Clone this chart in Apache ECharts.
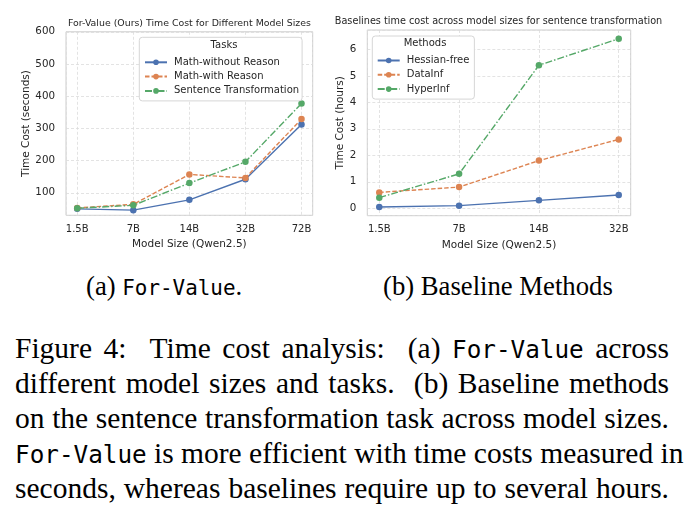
<!DOCTYPE html>
<html>
<head>
<meta charset="utf-8">
<script src="https://cdn.jsdelivr.net/npm/echarts@6/dist/echarts.min.js"></script>
<style>
  body { margin: 0; width: 691px; height: 523px; position: relative; background: #fff; overflow: hidden; }
  #chart { position: absolute; left: 0; top: 0; width: 691px; height: 262px; }
  .sub { position: absolute; top: 272.5px; font: 26.7px/1 "Liberation Serif", serif; color: #000; white-space: nowrap; }
  .tt { font-family: "DejaVu Sans Mono", monospace; line-height: 1; }
  .cap { position: absolute; left: 15px; width: 654px; top: 330.5px; font-family: "Liberation Serif", serif; font-size: 29.5px; color: #000; }
  .cap div { height: 35.2px; line-height: 35.2px; text-align: justify; text-align-last: justify; white-space: nowrap; }
  .cap .tt { font-size: 24.3px; }
</style>
</head>
<body>
<div id="chart"></div>
<div class="sub" style="left:86px">(a) <span class="tt" style="font-size:20.9px">For-Value</span>.</div>
<div class="sub" style="left:383px">(b) Baseline Methods</div>
<div class="cap">
  <div>Figure 4: &nbsp;Time cost analysis: &nbsp;(a) <span class="tt">For-Value</span> across</div>
  <div>different model sizes and tasks. &nbsp;(b) Baseline methods</div>
  <div>on the sentence transformation task across model sizes.</div>
  <div><span class="tt">For-Value</span> is more efficient with time costs measured in</div>
  <div>seconds, whereas baselines require up to several hours.</div>
</div>
<script>
// (a) For-Value time cost, seconds
var sizesA = ['1.5B', '7B', '14B', '32B', '72B'];
var mathWithout = [50, 46, 78, 142, 312];
var mathWith = [53, 64, 157, 146, 329];
var sentence = [52, 61, 130, 196, 377];

// (b) baselines, hours
var sizesB = ['1.5B', '7B', '14B', '32B'];
var hessianFree = [0.05, 0.1, 0.3, 0.5];
var dataInf = [0.6, 0.8, 1.8, 2.6];
var hyperInf = [0.4, 1.3, 5.4, 6.4];

var BLUE = '#4c72b0', ORANGE = '#dd8452', GREEN = '#55a868';
var FONT = 'DejaVu Sans';
var TXT = '#262626';
var DASH = [4.5, 2];
var DASHDOT = [7, 2, 1.5, 2];

var chart = echarts.init(document.getElementById('chart'));

function pairs(arr) {
    return arr.map(function (v, i) { return [i, v]; });
}

function lineSeries(name, data, color, dash, idx) {
    return {
        type: 'line',
        name: name,
        xAxisIndex: idx,
        yAxisIndex: idx,
        data: pairs(data),
        symbol: 'circle',
        symbolSize: 6.5,
        lineStyle: { color: color, width: 1.4, type: dash },
        itemStyle: { color: color },
        emphasis: { disabled: true },
        animation: false
    };
}

var gridLine = { show: true, lineStyle: { color: '#dcdcdc', width: 0.8, type: [3, 2] } };

function xAxis(idx, cats, pad, split) {
    return {
        type: 'value',
        gridIndex: idx,
        min: -pad,
        max: cats.length - 1 + pad,
        splitNumber: split,
        axisLine: { show: false },
        axisTick: { show: false },
        splitLine: gridLine,
        axisLabel: {
            showMinLabel: false,
            showMaxLabel: false,
            margin: 9,
            fontSize: 10,
            fontFamily: FONT,
            color: TXT,
            formatter: function (v) {
                return Number.isInteger(v) ? cats[v] : '';
            }
        },
        name: 'Model Size (Qwen2.5)',
        nameLocation: 'middle',
        nameGap: 21,
        nameTextStyle: { fontSize: 10.5, fontFamily: FONT, color: TXT }
    };
}

function yAxis(idx, min, max, step, name, gap) {
    return {
        type: 'value',
        gridIndex: idx,
        min: min,
        max: max,
        splitNumber: 5,
        axisLine: { show: false },
        axisTick: { show: false },
        splitLine: gridLine,
        axisLabel: {
            showMinLabel: false,
            margin: 11,
            fontSize: 10.3,
            fontFamily: FONT,
            color: TXT,
            formatter: function (v) {
                return (Math.abs(v / step - Math.round(v / step)) < 1e-6 && v >= 0) ? String(Math.round(v)) : '';
            }
        },
        name: name,
        nameLocation: 'middle',
        nameGap: gap,
        nameTextStyle: { fontSize: 10.5, fontFamily: FONT, color: TXT }
    };
}

function legend(names, left, top, pad) {
    return {
        data: names,
        orient: 'vertical',
        left: left,
        top: top,
        padding: pad,
        itemWidth: 22,
        itemHeight: 7,
        itemGap: 2.3,
        selectedMode: false,
        backgroundColor: '#fff',
        borderColor: '#d6d6d6',
        borderWidth: 1,
        borderRadius: 3,
        textStyle: { fontSize: 10, lineHeight: 12, fontFamily: FONT, color: TXT, padding: [0, 0, 0, 2] }
    };
}

function label(text, x, y, size) {
    return {
        type: 'text',
        x: x,
        y: y,
        z: 100,
        style: {
            text: text,
            fontSize: size,
            fontFamily: FONT,
            fill: TXT,
            align: 'center',
            verticalAlign: 'middle'
        }
    };
}

var option = {
    backgroundColor: '#fff',
    animation: false,
    grid: [
        { left: 66, top: 31.8, width: 246.7, height: 183.5, show: true, borderColor: '#cccccc', borderWidth: 1 },
        { left: 367.3, top: 30, width: 263.4, height: 185.7, show: true, borderColor: '#cccccc', borderWidth: 1 }
    ],
    xAxis: [
        xAxis(0, sizesA, 0.2, 5),
        xAxis(1, sizesB, 0.15, 3)
    ],
    yAxis: [
        yAxis(0, 30, 600, 100, 'Time Cost (seconds)', 33),
        yAxis(1, -0.28, 6.73, 1, 'Time Cost (hours)', 21)
    ],
    legend: [
        legend(['Math-without Reason', 'Math-with Reason', 'Sentence Transformation'], 139.3, 37.3, [19, 3, 4, 4.7]),
        legend(['Hessian-free', 'DataInf', 'HyperInf'], 372.3, 36, [18.5, 5, 4, 4.4])
    ],
    graphic: [
        label('For-Value (Ours) Time Cost for Different Model Sizes', 189.5, 24, 9.4),
        label('Baselines time cost across model sizes for sentence transformation', 498.5, 21.5, 9.7),
        label('Tasks', 224, 45.7, 10),
        label('Methods', 425, 43.3, 10)
    ],
    series: [
        lineSeries('Math-without Reason', mathWithout, BLUE, 'solid', 0),
        lineSeries('Math-with Reason', mathWith, ORANGE, DASH, 0),
        lineSeries('Sentence Transformation', sentence, GREEN, DASHDOT, 0),
        lineSeries('Hessian-free', hessianFree, BLUE, 'solid', 1),
        lineSeries('DataInf', dataInf, ORANGE, DASH, 1),
        lineSeries('HyperInf', hyperInf, GREEN, DASHDOT, 1)
    ]
};

chart.setOption(option);
</script>
</body>
</html>
